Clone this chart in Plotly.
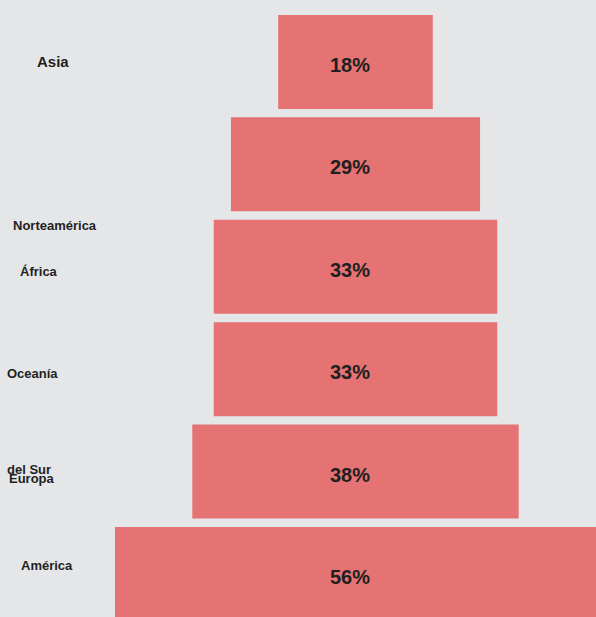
import plotly.graph_objects as go

# Share of each region (percent)
regions = ["Asia", "Norteamérica", "África", "Oceanía", "Europa", "América del Sur"]
shares = [18, 29, 33, 33, 38, 56]

# Side labels as drawn: (text, region it belongs to, x pixel centre, y pixel offset, font size)
side_labels = [
    ("Asia", "Asia", 53, 0, 15),
    ("Norteamérica", "Norteamérica", 55, -61, 13),
    ("África", "África", 39, -5, 13),
    ("Oceanía", "Oceanía", 32, -4, 13),
    ("Europa", "Europa", 32, -7, 13),
    ("del Sur", "América del Sur", 29, 104, 13),
    ("América", "América del Sur", 47, 8, 13),
]

BAR = "#E57373"
BG = "#E5E6E8"
INK = "#1F1F1F"
FONT = "Liberation Sans, Arial, sans-serif"
LEFT = 115

fig = go.Figure(
    go.Funnel(
        x=shares,
        y=regions,
        marker=dict(color=BAR, line=dict(width=0)),
        connector=dict(visible=False),
        textinfo="none",
        hoverinfo="y+x",
    )
)

annotations = []
for region, v in zip(regions, shares):
    annotations.append(dict(
        x=0, y=region, xref="x", yref="y",
        text=f"<b>{v}%</b>", showarrow=False,
        xanchor="center", yanchor="middle",
        xshift=-6, yshift=-3,
        font=dict(family=FONT, size=20, color=INK),
    ))
for text, region, px, dy, size in side_labels:
    annotations.append(dict(
        x=0, y=region, xref="paper", yref="y",
        text=f"<b>{text}</b>", showarrow=False,
        xanchor="center", yanchor="middle",
        xshift=px - LEFT, yshift=dy,
        font=dict(family=FONT, size=size, color=INK),
    ))

fig.update_layout(
    width=596, height=617,
    margin=dict(l=LEFT, r=0, t=0, b=0),
    paper_bgcolor=BG, plot_bgcolor=BG,
    funnelgap=0.082,
    showlegend=False,
    annotations=annotations,
    xaxis=dict(range=[-28, 28], visible=False, fixedrange=True),
    yaxis=dict(type="category", range=[5.42, -0.605], visible=False,
               categoryorder="array", categoryarray=regions),
)

fig.write_html("out.html")
